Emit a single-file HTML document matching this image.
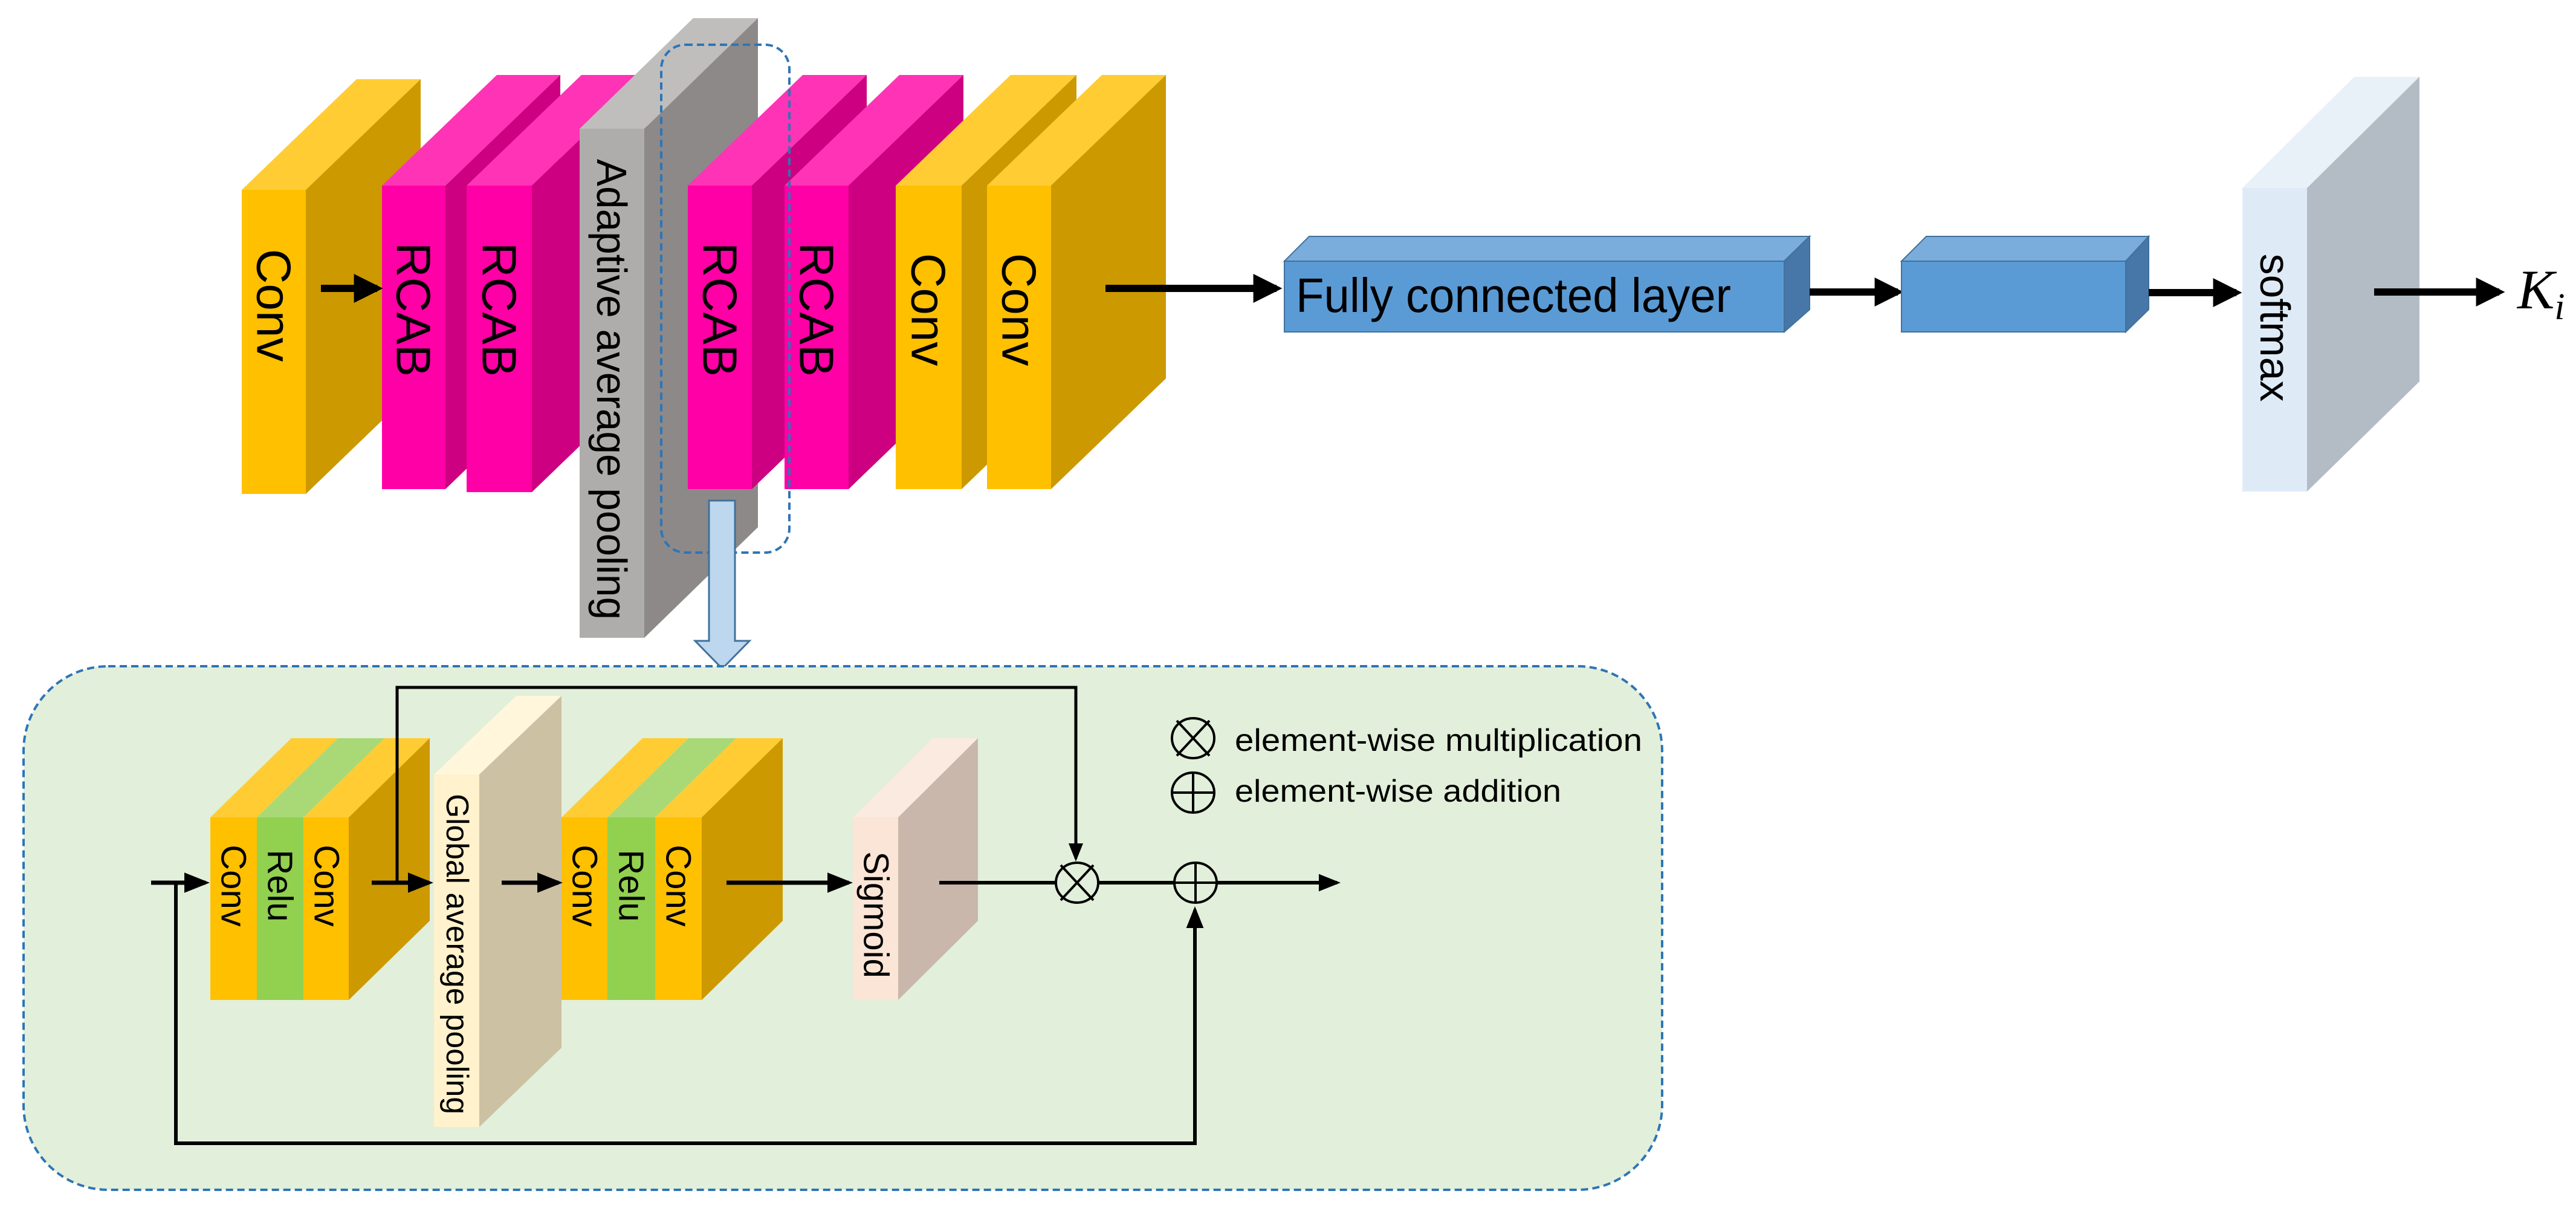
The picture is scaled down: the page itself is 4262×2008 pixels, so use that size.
<!DOCTYPE html>
<html><head><meta charset="utf-8"><style>html,body{margin:0;padding:0;background:#fff}svg{display:block}</style></head><body>
<svg width="4262" height="2008" viewBox="0 0 4262 2008" xmlns="http://www.w3.org/2000/svg" font-family="Liberation Sans, sans-serif">
<defs>
<marker id="ah" markerWidth="4" markerHeight="4" refX="3.2" refY="2" orient="auto" markerUnits="strokeWidth"><path d="M0,0 L4,2 L0,4 Z" fill="#000"/></marker>
<marker id="as" markerWidth="6" markerHeight="6" refX="5" refY="3" orient="auto" markerUnits="strokeWidth"><path d="M0,0.6 L6,3 L0,5.4 Z" fill="#000"/></marker>
</defs>

<polygon points="400,314 590,131 696,131 506,314" fill="#FFCC33"/>
<polygon points="506,314 696,131 696,634 506,817" fill="#CC9900"/>
<rect x="400" y="314" width="106" height="503" fill="#FFC000"/>
<polygon points="632,307 822,124 927,124 737,307" fill="#FF33B5"/>
<polygon points="737,307 927,124 927,626 737,809" fill="#CC0080"/>
<rect x="632" y="307" width="105" height="502" fill="#FF00A6"/>
<polygon points="772,307 962,124 1070,124 880,307" fill="#FF33B5"/>
<polygon points="880,307 1070,124 1070,631 880,814" fill="#CC0080"/>
<rect x="772" y="307" width="108" height="507" fill="#FF00A6"/>
<polygon points="959,213 1147,30 1254,30 1066,213" fill="#BFBEBD"/>
<polygon points="1066,213 1254,30 1254,872 1066,1055" fill="#8C8988"/>
<rect x="959" y="213" width="107" height="842" fill="#AFADAC"/>
<polygon points="1138,307 1328,124 1434,124 1244,307" fill="#FF33B5"/>
<polygon points="1244,307 1434,124 1434,626 1244,809" fill="#CC0080"/>
<rect x="1138" y="307" width="106" height="502" fill="#FF00A6"/>
<polygon points="1298,307 1488,124 1594,124 1404,307" fill="#FF33B5"/>
<polygon points="1404,307 1594,124 1594,626 1404,809" fill="#CC0080"/>
<rect x="1298" y="307" width="106" height="502" fill="#FF00A6"/>
<polygon points="1482,307 1672,124 1781,124 1591,307" fill="#FFCC33"/>
<polygon points="1591,307 1781,124 1781,626 1591,809" fill="#CC9900"/>
<rect x="1482" y="307" width="109" height="502" fill="#FFC000"/>
<polygon points="1633,307 1823,124 1929,124 1739,307" fill="#FFCC33"/>
<polygon points="1739,307 1929,124 1929,626 1739,809" fill="#CC9900"/>
<rect x="1633" y="307" width="106" height="502" fill="#FFC000"/>

<g font-size="80" fill="#000" text-anchor="middle" dominant-baseline="central">
<text transform="translate(453,505) rotate(90)">Conv</text>
<text transform="translate(684,512) rotate(90)">RCAB</text>
<text transform="translate(826,512) rotate(90)">RCAB</text>
<text transform="translate(1012,644) rotate(90)" font-size="70" textLength="762" lengthAdjust="spacingAndGlyphs">Adaptive average pooling</text>
<text transform="translate(1191,512) rotate(90)">RCAB</text>
<text transform="translate(1351,512) rotate(90)">RCAB</text>
<text transform="translate(1536,512) rotate(90)">Conv</text>
<text transform="translate(1686,512) rotate(90)">Conv</text>
</g>

<line x1="531" y1="477" x2="624" y2="477" stroke="#000" stroke-width="12" marker-end="url(#ah)"/>

<rect x="1094" y="74" width="212" height="840" rx="40" fill="none" stroke="#2E75B6" stroke-width="4" stroke-dasharray="12,7"/>
<polygon points="1173,828 1216,828 1216,1060 1240,1060 1195,1106 1150,1060 1173,1060" fill="#BDD7EE" stroke="#41719C" stroke-width="3"/>

<line x1="1829" y1="477" x2="2112" y2="477" stroke="#000" stroke-width="12" marker-end="url(#ah)"/>

<polygon points="2125,432 2166,391 2994,391 2952,432" fill="#7AADDC" stroke="#41719C" stroke-width="2"/>
<polygon points="2952,432 2994,391 2994,512 2952,549" fill="#4677A8" stroke="#41719C" stroke-width="2"/>
<rect x="2125" y="432" width="827" height="117" fill="#5B9BD5" stroke="#41719C" stroke-width="2"/>
<text x="2144" y="516" font-size="80" textLength="720" lengthAdjust="spacingAndGlyphs">Fully connected layer</text>

<line x1="2994" y1="483" x2="3140" y2="483" stroke="#000" stroke-width="12" marker-end="url(#ah)"/>

<polygon points="3146,432 3187,391 3555,391 3517,432" fill="#7AADDC" stroke="#41719C" stroke-width="2"/>
<polygon points="3517,432 3555,391 3555,512 3517,549" fill="#4677A8" stroke="#41719C" stroke-width="2"/>
<rect x="3146" y="432" width="371" height="117" fill="#5B9BD5" stroke="#41719C" stroke-width="2"/>

<line x1="3555" y1="484" x2="3700" y2="484" stroke="#000" stroke-width="12" marker-end="url(#ah)"/>

<polygon points="3710,311 3895,127 4003,127 3817,311" fill="#E8F0F8"/>
<polygon points="3817,311 4003,127 4003,631 3817,813" fill="#B3BCC5"/>
<rect x="3710" y="311" width="107" height="502" fill="#DEEBF7"/>
<text transform="translate(3764,542) rotate(90)" font-size="70" text-anchor="middle" dominant-baseline="central">softmax</text>

<line x1="3928" y1="483" x2="4135" y2="483" stroke="#000" stroke-width="12" marker-end="url(#ah)"/>
<text x="4165" y="510" font-family="Liberation Serif, serif" font-style="italic" font-size="92">K<tspan font-size="62" dy="18">i</tspan></text>

<rect x="39" y="1102" width="2711" height="866" rx="140" fill="#E2EFDA" stroke="#2E75B6" stroke-width="4" stroke-dasharray="12,7"/>

<polygon points="348,1352 482,1221 559,1221 425,1352" fill="#FFCC33"/>
<polygon points="425,1352 559,1221 636,1221 502,1352" fill="#A9D977"/>
<polygon points="502,1352 636,1221 711,1221 577,1352" fill="#FFCC33"/>
<polygon points="577,1352 711,1221 711,1523 577,1654" fill="#CC9900"/>
<rect x="348" y="1352" width="77" height="302" fill="#FFC000"/>
<rect x="425" y="1352" width="77" height="302" fill="#92D050"/>
<rect x="502" y="1352" width="75" height="302" fill="#FFC000"/>
<polygon points="718,1281 854,1151 929,1151 793,1281" fill="#FFF6DC"/>
<polygon points="793,1281 929,1151 929,1733 793,1864" fill="#CCC1A3"/>
<rect x="718" y="1281" width="75" height="583" fill="#FFF2CC"/>
<polygon points="929,1352 1063,1221 1139,1221 1005,1352" fill="#FFCC33"/>
<polygon points="1005,1352 1139,1221 1218,1221 1084,1352" fill="#A9D977"/>
<polygon points="1084,1352 1218,1221 1295,1221 1161,1352" fill="#FFCC33"/>
<polygon points="1161,1352 1295,1221 1295,1523 1161,1654" fill="#CC9900"/>
<rect x="929" y="1352" width="76" height="302" fill="#FFC000"/>
<rect x="1005" y="1352" width="79" height="302" fill="#92D050"/>
<rect x="1084" y="1352" width="77" height="302" fill="#FFC000"/>
<polygon points="1411,1352 1543,1221 1618,1221 1486,1352" fill="#FBEADF"/>
<polygon points="1486,1352 1618,1221 1618,1523 1486,1654" fill="#C9B7AB"/>
<rect x="1411" y="1352" width="75" height="302" fill="#FBE5D6"/>

<g font-size="58" text-anchor="middle" dominant-baseline="central">
<text transform="translate(386,1465) rotate(90)">Conv</text>
<text transform="translate(463,1465) rotate(90)">Relu</text>
<text transform="translate(540,1465) rotate(90)">Conv</text>
<text transform="translate(756,1578) rotate(90)" font-size="52" textLength="530" lengthAdjust="spacingAndGlyphs">Global average pooling</text>
<text transform="translate(967,1465) rotate(90)">Conv</text>
<text transform="translate(1044,1465) rotate(90)">Relu</text>
<text transform="translate(1122,1465) rotate(90)">Conv</text>
<text transform="translate(1449,1513) rotate(90)">Sigmoid</text>
</g>

<g stroke="#000" fill="none">
<line x1="250" y1="1460" x2="340" y2="1460" stroke-width="7" marker-end="url(#as)"/>
<polyline points="291,1460 291,1891 1977,1891 1977,1505" stroke-width="6" marker-end="url(#as)"/>
<line x1="615" y1="1460" x2="710" y2="1460" stroke-width="7" marker-end="url(#as)"/>
<polyline points="657,1460 657,1137 1780,1137 1780,1420" stroke-width="5" marker-end="url(#as)"/>
<line x1="830" y1="1460" x2="924" y2="1460" stroke-width="7" marker-end="url(#as)"/>
<line x1="1202" y1="1460" x2="1404" y2="1460" stroke-width="7" marker-end="url(#as)"/>
<line x1="1554" y1="1460" x2="1746" y2="1460" stroke-width="6"/>
<line x1="1816" y1="1460" x2="1942" y2="1460" stroke-width="6"/>
<line x1="2012" y1="1460" x2="2212" y2="1460" stroke-width="6" marker-end="url(#as)"/>
<ellipse cx="1782" cy="1460" rx="35" ry="33" stroke-width="4"/>
<line x1="1755" y1="1431" x2="1809" y2="1489" stroke-width="4"/>
<line x1="1809" y1="1431" x2="1755" y2="1489" stroke-width="4"/>
<ellipse cx="1978" cy="1460" rx="35" ry="33" stroke-width="4"/>
<line x1="1943" y1="1460" x2="2013" y2="1460" stroke-width="4"/>
<line x1="1978" y1="1427" x2="1978" y2="1493" stroke-width="4"/>
<ellipse cx="1974" cy="1221" rx="35" ry="33" stroke-width="4"/>
<line x1="1947" y1="1192" x2="2001" y2="1250" stroke-width="4"/>
<line x1="2001" y1="1192" x2="1947" y2="1250" stroke-width="4"/>
<ellipse cx="1974" cy="1311" rx="35" ry="33" stroke-width="4"/>
<line x1="1939" y1="1311" x2="2009" y2="1311" stroke-width="4"/>
<line x1="1974" y1="1278" x2="1974" y2="1344" stroke-width="4"/>
</g>
<text x="2043" y="1242" font-size="52" textLength="674" lengthAdjust="spacingAndGlyphs">element-wise multiplication</text>
<text x="2043" y="1326" font-size="52" textLength="540" lengthAdjust="spacingAndGlyphs">element-wise addition</text>
</svg>
</body></html>
